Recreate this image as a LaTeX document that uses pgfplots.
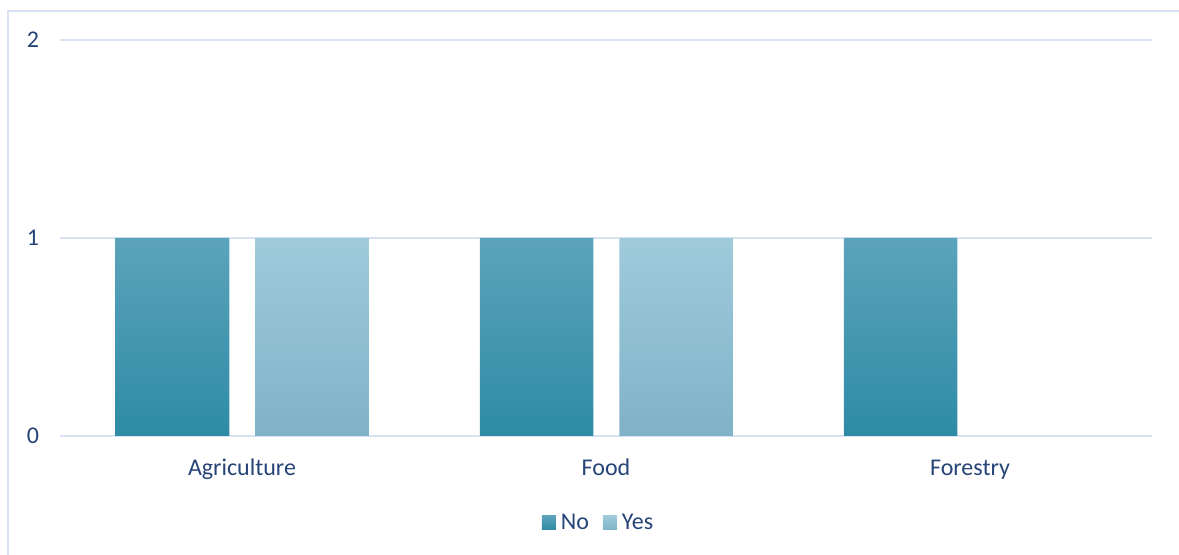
\documentclass[border=0pt]{standalone}
\usepackage{pgfplots}
\pgfplotsset{compat=1.18}
\usepackage{fontspec}
\setmainfont{Carlito}
\definecolor{txt}{RGB}{38,68,120}
\definecolor{gridc}{RGB}{217,226,243}
\definecolor{notop}{RGB}{91,163,187}
\definecolor{nobot}{RGB}{46,139,165}
\definecolor{yestop}{RGB}{159,203,219}
\definecolor{yesbot}{RGB}{127,178,199}
\begin{document}
\begin{tikzpicture}
\useasboundingbox (0,0) rectangle (589.5pt,277.5pt);
\draw[gridc, line width=0.75pt] (4pt,0) -- (4pt,272pt) -- (589.5pt,272pt);
\begin{axis}[
  at={(30pt,59.5pt)}, anchor=south west,
  width=546pt, height=198pt, scale only axis,
  xmin=-0.5, xmax=2.5, ymin=0, ymax=2,
  xtick={0,1,2}, xticklabels={Agriculture,Food,Forestry},
  ytick={0,1,2},
  axis line style={draw=none},
  major tick length=0pt,
  ymajorgrids, major grid style={gridc, line width=0.75pt},
  tick label style={font=\fontsize{12}{14}\selectfont, text=txt},
  /pgf/number format/assume math mode=true,
  xticklabel style={text height=8pt, text depth=2.5pt, yshift=-8pt},
  yticklabel style={xshift=-7pt},
  legend columns=2,
  legend style={draw=none, fill=none, at={(0.4936,-0.2196)}, anchor=center,
    font=\fontsize{12}{14}\selectfont, text=txt,
    /tikz/every odd column/.append style={column sep=1pt},
    /tikz/every even column/.append style={column sep=5.5pt},
    nodes={inner xsep=1.5pt}},
  legend image code/.code={\fill[#1] (0pt,-3.5pt) rectangle (7pt,3.5pt);},
  clip=false,
]
\addplot[ybar, bar width=56.75pt, bar shift=-34.75pt, draw=none, top color=notop, bottom color=nobot, shading=axis]
  coordinates {(0,1) (1,1) (2,1)};
\addlegendentry{No}
\addplot[ybar, bar width=56.75pt, bar shift=35pt, draw=none, top color=yestop, bottom color=yesbot, shading=axis]
  coordinates {(0,1) (1,1)};
\addlegendentry{Yes}
\end{axis}
\end{tikzpicture}
\end{document}
